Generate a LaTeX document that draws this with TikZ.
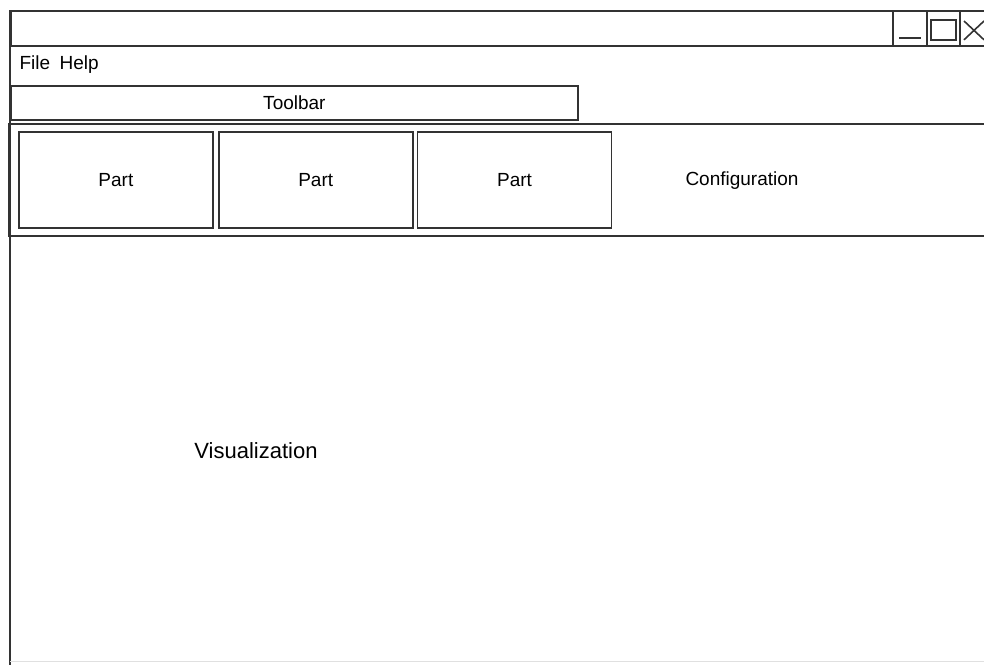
\documentclass[tikz,border=0pt]{standalone}
\usepackage{fontspec}
\setmainfont{Liberation Sans}
\usetikzlibrary{positioning}
\tikzset{every node/.style={font=\fontsize{19}{22}\selectfont},
	pane/.style={draw=black!80,line width=1.8pt,rectangle,inner sep=0pt},
	partbox/.style={pane,minimum width=194pt,minimum height=96pt},
	winbutton/.style={pane,minimum width=34pt,minimum height=35pt,anchor=north west},
	glyph/.style={draw=black!80,line width=1.6pt}}

\begin{document}
\begin{tikzpicture}[x=1pt,y=-1pt]
	\useasboundingbox (0,0) rectangle (984,665);
	\node[pane,minimum width=990pt,minimum height=35pt,anchor=north west] (titlebar) at (10,10) {};
	\node[winbutton] (minimize) at (892,10) {};
	\node[winbutton,minimum width=33pt] (maximize) at (926,10) {};
	\node[winbutton] (close) at (959,10) {};
	\draw[glyph] ([xshift=7pt,yshift=-28pt]minimize.north west) -- ([xshift=-7pt,yshift=-28pt]minimize.north east);
	\draw[glyph] ([xshift=5pt,yshift=-10pt]maximize.north west) rectangle ([xshift=-5pt,yshift=7pt]maximize.south east);
	\draw[glyph] ([xshift=5pt,yshift=-11pt]close.north west) -- ([xshift=25pt,yshift=7pt]close.south west);
	\draw[glyph] ([xshift=5pt,yshift=7pt]close.south west) -- ([xshift=25pt,yshift=-11pt]close.north west);
	\coordinate (wintop) at (10,10);
	\coordinate (winbottom) at (10,665);
	\draw[draw=black!80,line width=2.8pt] (wintop) -- (winbottom);
	\coordinate (bottomleft) at (10,661);
	\coordinate (bottomright) at (984,661);
	\draw[draw=black!12,line width=1pt] (bottomleft) -- (bottomright);
	\node[anchor=west] (menu) at (16,65) {File\hspace{0.5em}Help};
	\node[pane,minimum width=567pt,minimum height=34pt,anchor=north west] (toolbar) at (10,85) {Toolbar};
	\node[pane,minimum width=990pt,minimum height=112pt,anchor=north west] (config) at (8,123) {};
	\node[partbox,anchor=north west] (part1) at (18,131) {Part};
	\node[partbox,right=4pt of part1] (part2) {Part};
	\node[partbox,right=3pt of part2] (part3) {Part};
	\node (configlabel) at (742,181) {Configuration};
	\node[font=\fontsize{22}{26}\selectfont] (visualization) at (256,451) {Visualization};
\end{tikzpicture}
\end{document}
